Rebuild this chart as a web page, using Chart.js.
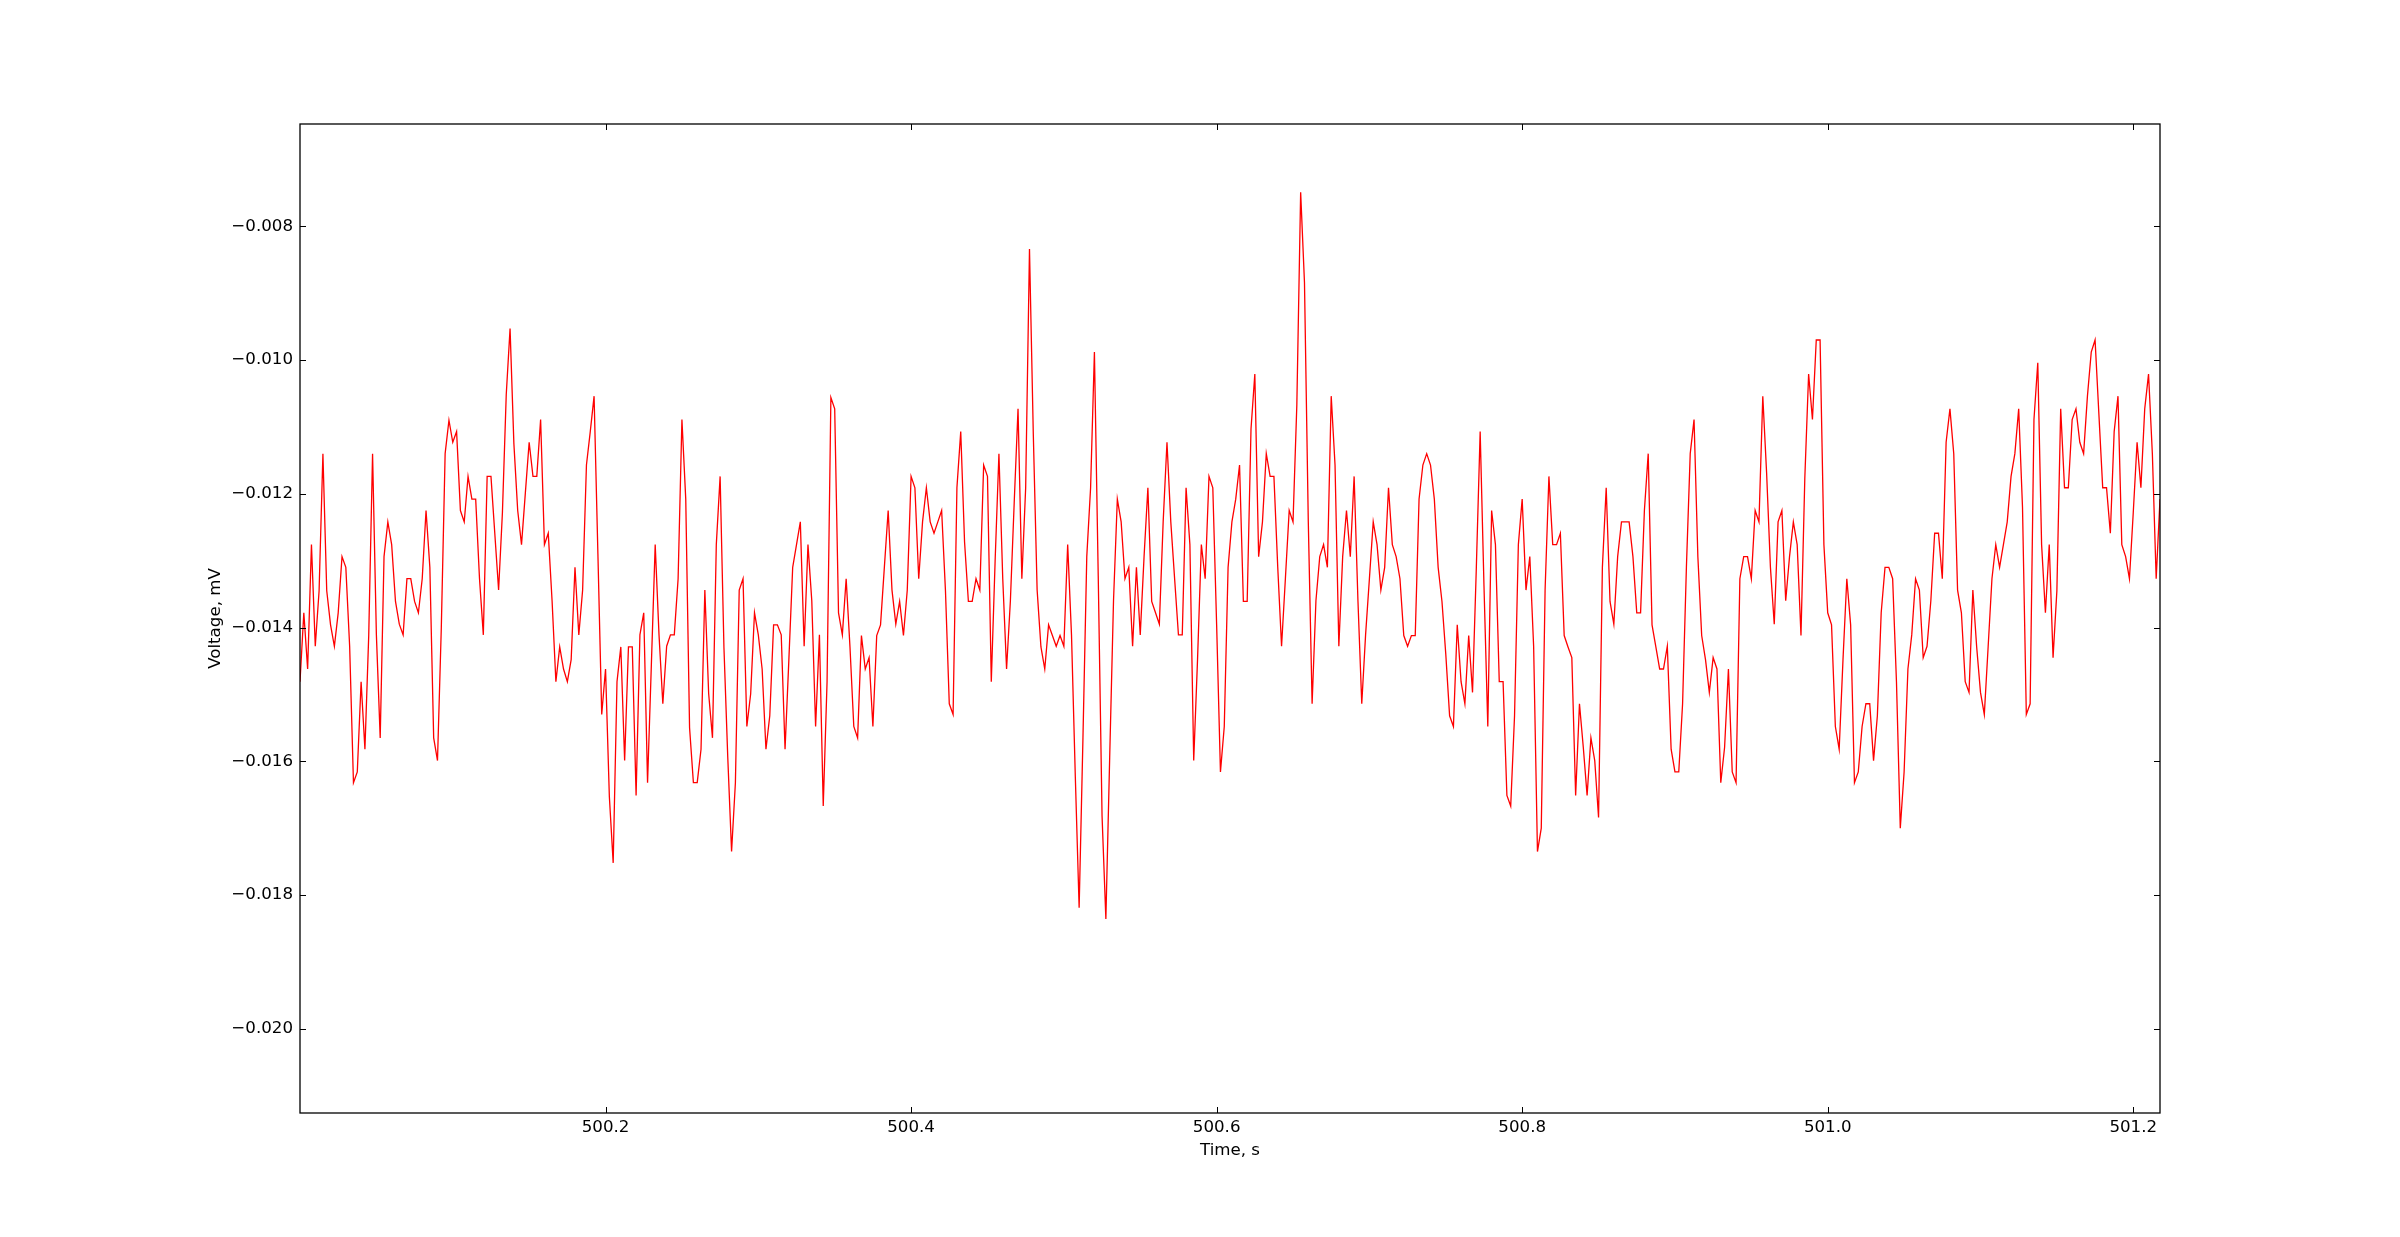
<!DOCTYPE html>
<html>
<head>
<meta charset="utf-8">
<title>Voltage</title>
<script src="https://cdn.jsdelivr.net/npm/chart.js@4.4.1/dist/chart.umd.min.js"></script>
<style>
  html, body { margin: 0; padding: 0; background: #fff; }
  #wrap { width: 2400px; height: 1237px; }
</style>
</head>
<body>
<div id="wrap"><canvas id="voltageChart" width="2400" height="1237"></canvas></div>
<script>
// recording: 400 Hz, starting at t = 500 s
const startTime = 500.0;
const sampleRate = 400;

// voltage samples, mV
const voltage = [
  -0.01481, -0.01378, -0.01462, -0.01276, -0.01428, -0.01345, -0.01140, -0.01345, -0.01396, -0.01428,
  -0.01378, -0.01294, -0.01310, -0.01428, -0.01632, -0.01616, -0.01481, -0.01582, -0.01411, -0.01140,
  -0.01411, -0.01565, -0.01294, -0.01242, -0.01276, -0.01361, -0.01395, -0.01411, -0.01327, -0.01327,
  -0.01361, -0.01378, -0.01327, -0.01225, -0.01310, -0.01565, -0.01599, -0.01400, -0.01140, -0.01090,
  -0.01123, -0.01107, -0.01225, -0.01242, -0.01174, -0.01208, -0.01208, -0.01327, -0.01411, -0.01174,
  -0.01174, -0.01259, -0.01344, -0.01228, -0.01052, -0.00953, -0.01125, -0.01225, -0.01276, -0.01199,
  -0.01123, -0.01174, -0.01174, -0.01089, -0.01276, -0.01259, -0.01360, -0.01481, -0.01429, -0.01462,
  -0.01481, -0.01448, -0.01310, -0.01411, -0.01344, -0.01157, -0.01107, -0.01054, -0.01290, -0.01530,
  -0.01462, -0.01653, -0.01752, -0.01481, -0.01429, -0.01599, -0.01429, -0.01429, -0.01651, -0.01411,
  -0.01378, -0.01632, -0.01455, -0.01276, -0.01411, -0.01514, -0.01428, -0.01411, -0.01411, -0.01327,
  -0.01089, -0.01208, -0.01550, -0.01632, -0.01632, -0.01582, -0.01344, -0.01499, -0.01565, -0.01276,
  -0.01174, -0.01430, -0.01594, -0.01735, -0.01632, -0.01344, -0.01327, -0.01548, -0.01499, -0.01378,
  -0.01411, -0.01462, -0.01582, -0.01532, -0.01396, -0.01396, -0.01411, -0.01582, -0.01448, -0.01310,
  -0.01276, -0.01242, -0.01428, -0.01276, -0.01360, -0.01548, -0.01411, -0.01667, -0.01481, -0.01056,
  -0.01073, -0.01378, -0.01411, -0.01327, -0.01429, -0.01548, -0.01565, -0.01412, -0.01462, -0.01445,
  -0.01548, -0.01412, -0.01396, -0.01310, -0.01225, -0.01344, -0.01395, -0.01361, -0.01412, -0.01344,
  -0.01174, -0.01191, -0.01327, -0.01242, -0.01191, -0.01242, -0.01259, -0.01242, -0.01225, -0.01345,
  -0.01514, -0.01530, -0.01191, -0.01107, -0.01272, -0.01361, -0.01361, -0.01327, -0.01344, -0.01157,
  -0.01174, -0.01481, -0.01301, -0.01140, -0.01327, -0.01462, -0.01360, -0.01213, -0.01073, -0.01327,
  -0.01191, -0.00834, -0.01111, -0.01344, -0.01429, -0.01462, -0.01396, -0.01412, -0.01428, -0.01412,
  -0.01428, -0.01276, -0.01411, -0.01623, -0.01819, -0.01565, -0.01294, -0.01191, -0.00988, -0.01323,
  -0.01682, -0.01836, -0.01594, -0.01360, -0.01208, -0.01242, -0.01327, -0.01310, -0.01428, -0.01310,
  -0.01411, -0.01294, -0.01191, -0.01361, -0.01378, -0.01395, -0.01242, -0.01123, -0.01242, -0.01327,
  -0.01411, -0.01411, -0.01191, -0.01276, -0.01599, -0.01448, -0.01276, -0.01327, -0.01174, -0.01191,
  -0.01396, -0.01616, -0.01548, -0.01310, -0.01242, -0.01208, -0.01157, -0.01361, -0.01361, -0.01103,
  -0.01021, -0.01294, -0.01242, -0.01140, -0.01174, -0.01174, -0.01310, -0.01428, -0.01327, -0.01225,
  -0.01242, -0.01067, -0.00749, -0.00884, -0.01242, -0.01514, -0.01360, -0.01294, -0.01276, -0.01310,
  -0.01054, -0.01157, -0.01428, -0.01294, -0.01225, -0.01294, -0.01174, -0.01360, -0.01514, -0.01411,
  -0.01327, -0.01242, -0.01276, -0.01344, -0.01310, -0.01191, -0.01276, -0.01294, -0.01327, -0.01412,
  -0.01428, -0.01412, -0.01412, -0.01208, -0.01157, -0.01140, -0.01157, -0.01208, -0.01310, -0.01361,
  -0.01440, -0.01532, -0.01548, -0.01396, -0.01481, -0.01514, -0.01412, -0.01497, -0.01310, -0.01107,
  -0.01338, -0.01548, -0.01225, -0.01276, -0.01481, -0.01481, -0.01651, -0.01667, -0.01532, -0.01276,
  -0.01208, -0.01344, -0.01294, -0.01428, -0.01735, -0.01700, -0.01344, -0.01174, -0.01276, -0.01276,
  -0.01259, -0.01412, -0.01429, -0.01445, -0.01651, -0.01514, -0.01579, -0.01651, -0.01565, -0.01599,
  -0.01684, -0.01310, -0.01191, -0.01361, -0.01395, -0.01294, -0.01242, -0.01242, -0.01242, -0.01294,
  -0.01378, -0.01378, -0.01225, -0.01140, -0.01396, -0.01429, -0.01462, -0.01462, -0.01428, -0.01582,
  -0.01616, -0.01616, -0.01514, -0.01310, -0.01140, -0.01089, -0.01294, -0.01412, -0.01448, -0.01497,
  -0.01445, -0.01462, -0.01632, -0.01579, -0.01462, -0.01616, -0.01632, -0.01327, -0.01294, -0.01294,
  -0.01327, -0.01225, -0.01242, -0.01054, -0.01169, -0.01310, -0.01395, -0.01242, -0.01225, -0.01360,
  -0.01294, -0.01242, -0.01276, -0.01412, -0.01177, -0.01021, -0.01089, -0.00970, -0.00970, -0.01276,
  -0.01378, -0.01396, -0.01548, -0.01582, -0.01448, -0.01327, -0.01396, -0.01632, -0.01616, -0.01548,
  -0.01514, -0.01514, -0.01599, -0.01532, -0.01378, -0.01310, -0.01310, -0.01327, -0.01481, -0.01700,
  -0.01616, -0.01462, -0.01411, -0.01327, -0.01344, -0.01445, -0.01428, -0.01360, -0.01259, -0.01259,
  -0.01327, -0.01123, -0.01073, -0.01140, -0.01344, -0.01378, -0.01481, -0.01497, -0.01344, -0.01429,
  -0.01497, -0.01530, -0.01429, -0.01327, -0.01276, -0.01310, -0.01276, -0.01242, -0.01174, -0.01140,
  -0.01073, -0.01220, -0.01530, -0.01514, -0.01089, -0.01004, -0.01276, -0.01378, -0.01276, -0.01445,
  -0.01345, -0.01073, -0.01191, -0.01191, -0.01089, -0.01073, -0.01123, -0.01140, -0.01054, -0.00988,
  -0.00970, -0.01081, -0.01191, -0.01191, -0.01259, -0.01107, -0.01054, -0.01276, -0.01294, -0.01327,
  -0.01228, -0.01123, -0.01191, -0.01073, -0.01021, -0.01140, -0.01327, -0.01208
];

const xTicks = [500.2, 500.4, 500.6, 500.8, 501.0, 501.2];
const yTicks = [-0.020, -0.018, -0.016, -0.014, -0.012, -0.010, -0.008];
const xRange = [500.0, 501.2175];
const yRange = [-0.02126, -0.00647];

const points = voltage.map((v, i) => ({ x: startTime + i / sampleRate, y: v }));

const FONT = { family: '"DejaVu Sans", sans-serif', size: 16.67 };

// matplotlib-style frame: full box with ticks pointing inwards
const innerTicks = {
  id: 'innerTicks',
  afterDatasetsDraw(chart) {
    const { ctx, chartArea: a, scales } = chart;
    const len = 6;
    ctx.save();
    ctx.strokeStyle = '#000';
    ctx.lineWidth = 1;
    ctx.beginPath();
    scales.x.ticks.forEach((t) => {
      const px = Math.round(scales.x.getPixelForValue(t.value)) + 0.5;
      ctx.moveTo(px, a.bottom); ctx.lineTo(px, a.bottom - len);
      ctx.moveTo(px, a.top); ctx.lineTo(px, a.top + len);
    });
    scales.y.ticks.forEach((t) => {
      const py = Math.round(scales.y.getPixelForValue(t.value)) + 0.5;
      ctx.moveTo(a.left, py); ctx.lineTo(a.left + len, py);
      ctx.moveTo(a.right, py); ctx.lineTo(a.right - len, py);
    });
    ctx.stroke();
    ctx.lineWidth = 1.3;
    ctx.strokeRect(a.left, a.top, a.right - a.left, a.bottom - a.top);
    ctx.restore();
  }
};

new Chart(document.getElementById('voltageChart'), {
  type: 'line',
  data: {
    datasets: [{
      label: 'Voltage',
      data: points,
      borderColor: '#ff0000',
      borderWidth: 1.3,
      pointRadius: 0,
      tension: 0,
      fill: false
    }]
  },
  options: {
    responsive: false,
    animation: false,
    devicePixelRatio: 1,
    parsing: false,
    layout: { padding: { left: 0, top: 124, right: 240, bottom: 0 } },
    plugins: {
      legend: { display: false },
      tooltip: { enabled: false }
    },
    scales: {
      x: {
        type: 'linear',
        min: xRange[0],
        max: xRange[1],
        grid: { display: false, drawTicks: false, tickLength: 0 },
        border: { display: false },
        afterBuildTicks: (scale) => { scale.ticks = xTicks.map((v) => ({ value: v })); },
        afterFit: (scale) => { scale.height = 124; },
        ticks: {
          color: '#000',
          font: FONT,
          padding: 5,
          maxRotation: 0,
          callback: (v) => Number(v).toFixed(1)
        },
        title: {
          display: true,
          text: 'Time, s',
          color: '#000',
          font: FONT,
          padding: { top: 0, bottom: 76 }
        }
      },
      y: {
        type: 'linear',
        min: yRange[0],
        max: yRange[1],
        grid: { display: false, drawTicks: false, tickLength: 0 },
        border: { display: false },
        afterBuildTicks: (scale) => { scale.ticks = yTicks.map((v) => ({ value: v })); },
        afterFit: (scale) => { scale.width = 300; },
        ticks: {
          color: '#000',
          font: FONT,
          padding: 7,
          callback: (v) => (v < 0 ? '\u2212' : '') + Math.abs(v).toFixed(3)
        },
        title: {
          display: true,
          text: 'Voltage, mV',
          color: '#000',
          font: FONT,
          padding: { top: 206, bottom: 0 }
        }
      }
    }
  },
  plugins: [innerTicks]
});
</script>
</body>
</html>
